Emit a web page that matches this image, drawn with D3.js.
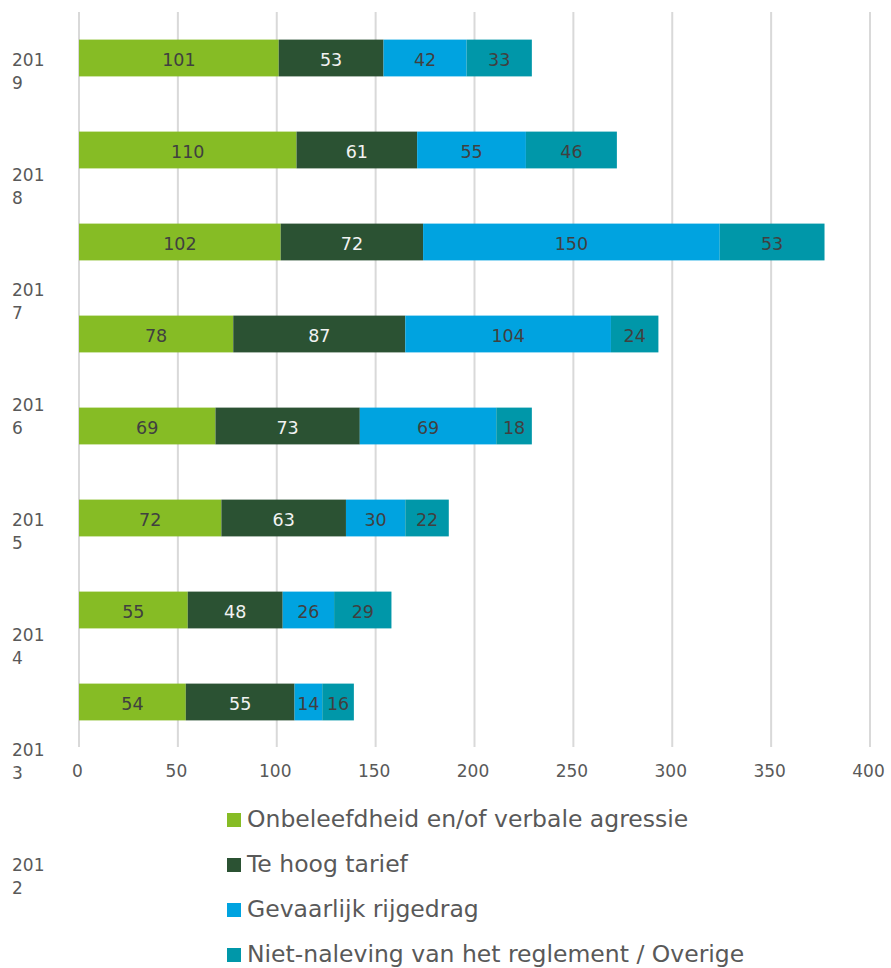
<!DOCTYPE html>
<html>
<head>
<meta charset="utf-8">
<script src="https://cdn.jsdelivr.net/npm/d3@7/dist/d3.min.js"></script>
<style>
  html, body { margin: 0; padding: 0; background: #ffffff; }
  svg { display: block; font-family: "DejaVu Sans", Verdana, sans-serif; }
</style>
</head>
<body>
<svg id="chart" width="891" height="968"></svg>
<script>
// Complaint counts per year, split by category
const years = ["2019", "2018", "2017", "2016", "2015", "2014", "2013", "2012"];
const seriesNames = [
  "Onbeleefdheid en/of verbale agressie",
  "Te hoog tarief",
  "Gevaarlijk rijgedrag",
  "Niet-naleving van het reglement / Overige"
];
const onbeleefdheid = [101, 110, 102, 78, 69, 72, 55, 54];
const teHoogTarief  = [53, 61, 72, 87, 73, 63, 48, 55];
const gevaarlijk    = [42, 55, 150, 104, 69, 30, 26, 14];
const overige       = [33, 46, 53, 24, 18, 22, 29, 16];
const xTicks = [0, 50, 100, 150, 200, 250, 300, 350, 400];

const colors = ["#86BC25", "#2B5233", "#00A3E0", "#0097A9"];
const labelColors = ["#404040", "#F2F2F2", "#404040", "#404040"];
const textGrey = "#595959";

const svg = d3.select("#chart");

const x = d3.scaleLinear().domain([0, 400]).range([79, 870]);

// Bars occupy the plot area; year labels are spread over the full height
const y = d3.scaleBand().domain(d3.range(years.length)).range([12, 748])
  .paddingInner(0.6).paddingOuter(0.3);
const yLabel = d3.scaleBand().domain(years).range([12, 932]);

// Vertical gridlines
svg.append("g")
  .selectAll("line")
  .data(xTicks)
  .join("line")
  .attr("x1", d => x(d)).attr("x2", d => x(d))
  .attr("y1", 12).attr("y2", 747)
  .attr("stroke", "#D9D9D9")
  .attr("stroke-width", 2);

// X axis tick labels
const xAxis = svg.append("g")
  .attr("transform", "translate(0,777)")
  .call(d3.axisBottom(x).tickValues(xTicks).tickSize(0).tickPadding(0));
xAxis.select(".domain").remove();
xAxis.selectAll("text")
  .attr("dy", 0)
  .attr("dx", -2)
  .attr("fill", textGrey)
  .style("font-size", "17px")
  .style("font-family", "'DejaVu Sans', Verdana, sans-serif");

// Stack the four series
const rows = years.map((yr, i) => ({
  year: yr, idx: i,
  s0: onbeleefdheid[i], s1: teHoogTarief[i], s2: gevaarlijk[i], s3: overige[i]
}));
const stack = d3.stack().keys(["s0", "s1", "s2", "s3"]);
const layers = stack(rows);

const gBars = svg.append("g");
layers.forEach((layer, k) => {
  const g = gBars.append("g");
  g.selectAll("rect")
    .data(layer)
    .join("rect")
    .attr("x", d => x(d[0]))
    .attr("width", d => x(d[1]) - x(d[0]))
    .attr("y", d => y(d.data.idx))
    .attr("height", y.bandwidth())
    .attr("fill", colors[k]);
  g.selectAll("text")
    .data(layer)
    .join("text")
    .attr("x", d => (x(d[0]) + x(d[1])) / 2)
    .attr("y", d => y(d.data.idx) + y.bandwidth() / 2 + 8)
    .attr("text-anchor", "middle")
    .attr("fill", labelColors[k])
    .style("font-size", "17.5px")
    .text(d => d[1] - d[0]);
});

// Year labels, wrapped after the third digit
const yl = svg.append("g")
  .selectAll("text")
  .data(years)
  .join("text")
  .attr("fill", textGrey)
  .style("font-size", "17px");
yl.append("tspan")
  .attr("x", 12)
  .attr("y", d => yLabel(d) + yLabel.bandwidth() / 2 - 4)
  .text(d => d.slice(0, 3));
yl.append("tspan")
  .attr("x", 12)
  .attr("y", d => yLabel(d) + yLabel.bandwidth() / 2 + 19)
  .text(d => d.slice(3));

// Legend
const legend = svg.append("g")
  .selectAll("g")
  .data(seriesNames)
  .join("g")
  .attr("transform", (d, i) => `translate(227,${820 + i * 45})`);
legend.append("rect")
  .attr("x", 0).attr("y", -7)
  .attr("width", 14).attr("height", 14)
  .attr("fill", (d, i) => colors[i]);
legend.append("text")
  .attr("x", 20)
  .attr("y", 7)
  .attr("fill", textGrey)
  .style("font-size", "23.5px")
  .text(d => d);
</script>
</body>
</html>
